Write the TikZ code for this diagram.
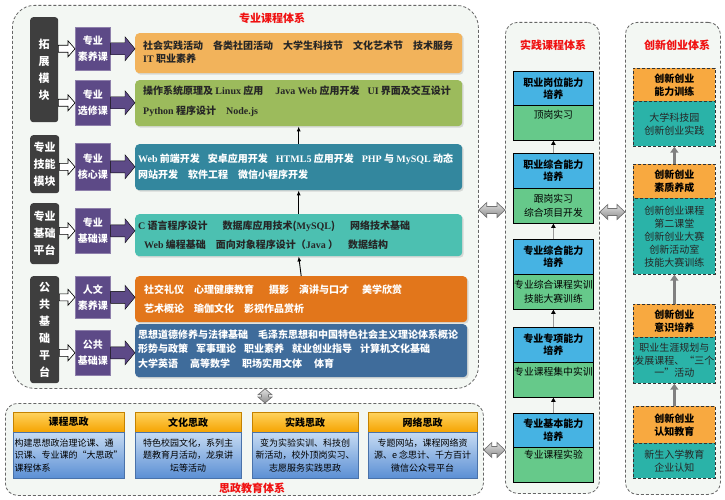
\documentclass[tikz,border=0pt]{standalone}
\usepackage{fontspec}
\setmainfont{Noto Sans CJK SC}
\newfontfamily\lat{Liberation Serif}
\usetikzlibrary{calc,arrows.meta,shadows}
\definecolor{bgtint}{HTML}{F3F7F3}
\definecolor{dkg}{HTML}{3E3E3E}
\definecolor{purp}{HTML}{5D4A87}
\definecolor{cOY}{HTML}{F2B35B}
\definecolor{cGR}{HTML}{9CBB5C}
\definecolor{cTB}{HTML}{33879E}
\definecolor{cTL}{HTML}{4CC0B1}
\definecolor{cOR}{HTML}{E2761B}
\definecolor{cBL}{HTML}{3F6C9B}
\definecolor{pBlue}{HTML}{46B3E3}
\definecolor{pGreen}{HTML}{66C98A}
\definecolor{iOr}{HTML}{F8A940}
\definecolor{iTl}{HTML}{2AB3A8}
\definecolor{hTop}{HTML}{FFD35E}
\definecolor{hBot}{HTML}{F5A300}
\definecolor{bTop}{HTML}{C6DBF3}
\definecolor{bBot}{HTML}{5B8FD4}
\definecolor{ttlred}{HTML}{F01010}
\newcommand\gp{\hspace{1em}}
\newcommand\mybx[7]{\node[#2,anchor=north west,minimum width=#5pt-#3pt,minimum height=#6pt-#4pt] (#1) at (#3,#4) {#7};}
\newcommand\rarrow[6]{\draw[#1] let \p1=(#2), \p2=(#3) in (\x1,\y1+#4pt) -- (\x2-#6pt,\y1+#4pt) -- (\x2-#6pt,\y1+#5pt) -- (\x2,\y1) -- (\x2-#6pt,\y1-#5pt) -- (\x2-#6pt,\y1-#4pt) -- (\x1,\y1-#4pt) -- cycle;}
\newcommand\dharrow[6]{\draw[#1] let \p1=(#2), \p2=(#3) in (\x1,\y1) -- (\x1+#6pt,\y1+#5pt) -- (\x1+#6pt,\y1+#4pt) -- (\x2-#6pt,\y1+#4pt) -- (\x2-#6pt,\y1+#5pt) -- (\x2,\y1) -- (\x2-#6pt,\y1-#5pt) -- (\x2-#6pt,\y1-#4pt) -- (\x1+#6pt,\y1-#4pt) -- (\x1+#6pt,\y1-#5pt) -- cycle;}
\newcommand\dvarrow[6]{\draw[#1] let \p1=(#2), \p2=(#3) in (\x1,\y1) -- (\x1+#5pt,\y1-#6pt) -- (\x1+#4pt,\y1-#6pt) -- (\x1+#4pt,\y2+#6pt) -- (\x1+#5pt,\y2+#6pt) -- (\x1,\y2) -- (\x1-#5pt,\y2+#6pt) -- (\x1-#4pt,\y2+#6pt) -- (\x1-#4pt,\y1-#6pt) -- (\x1-#5pt,\y1-#6pt) -- cycle;}
\tikzset{
 cont/.style={draw=black!60, densely dashed, line width=0.8pt, fill=bgtint, inner sep=0pt},
 ttl/.style={text=ttlred, font=\fontsize{11}{13}\selectfont\bfseries, inner sep=0pt},
 dkblk/.style={fill=dkg, rounded corners=3pt, text=white, align=center, inner sep=0pt, font=\fontsize{11}{17}\selectfont\bfseries},
 pbox/.style={fill=purp, draw=purp!70!white, line width=0.6pt, text=white, align=center, inner sep=0pt, font=\fontsize{10}{16}\selectfont\bfseries},
 cbox/.style={rounded corners=4pt, inner sep=0pt, drop shadow={opacity=0.25, shadow xshift=1.5pt, shadow yshift=-1.5pt}},
 ctext/.style={anchor=west, align=left, inner sep=0pt},
 hol/.style={fill=white, draw=black, line width=0.6pt},
 parr/.style={fill=purp},
 thinar/.style={draw=black, line width=0.9pt, -{Latex[length=5pt,width=4pt]}},
 pb/.style={fill=pBlue, draw=black, line width=0.8pt, align=center, inner sep=0pt, font=\fontsize{10}{12.5}\selectfont\bfseries},
 pg/.style={fill=pGreen, draw=black, line width=0.8pt, inner sep=0pt},
 pgt/.style={align=center, inner sep=0pt, font=\fontsize{9.8}{13.5}\selectfont},
 par/.style={draw=black!40, line width=0.6pt, -{Triangle[length=4pt,width=4.5pt,color=black]}},
 io/.style={fill=iOr, draw=black!80, densely dashed, line width=0.7pt, align=center, inner sep=0pt, font=\fontsize{10}{13}\selectfont\bfseries},
 it/.style={fill=iTl, draw=black!80, densely dashed, line width=0.7pt, align=center, inner sep=0pt, font=\fontsize{10}{13}\selectfont, text=black!85},
 iar/.style={draw=black!50, line width=2.4pt, -{Triangle[length=6pt,width=8pt]}},
 hd/.style={top color=hTop, bottom color=hBot, draw=hBot!80!black, line width=0.4pt, inner sep=0pt, font=\fontsize{10}{12}\selectfont\bfseries},
 bd/.style={top color=bTop, bottom color=bBot, draw=bBot!80!black, line width=0.4pt, inner sep=0pt, align=center, font=\fontsize{9}{12.5}\selectfont},
 dbl/.style={top color=black!12, bottom color=black!45, draw=black!55, line width=0.7pt},
}
\begin{document}
\begin{tikzpicture}[x=1pt,y=-1pt]
\useasboundingbox (0,0) rectangle (725,500);
\fill[white] (0,0) rectangle (725,500);
% containers
\mybx{k1}{cont,rounded corners=22pt}{12}{5}{478}{388}{}
\mybx{k2}{cont,rounded corners=12pt}{505}{22}{599}{493}{}
\mybx{k3}{cont,rounded corners=12pt}{625}{22}{720}{494}{}
\mybx{k4}{cont,rounded corners=12pt}{5}{403}{483}{495}{}
\node[ttl] (tt1) at (272,18) {专业课程体系};
\node[ttl] (tt2) at (553,45) {实践课程体系};
\node[ttl] (tt3) at (677,45) {创新创业体系};
\node[ttl] (tt4) at (252,488) {思政教育体系};
% dark blocks
\mybx{d1}{dkblk}{30}{17}{58}{122}{拓\\展\\模\\块}
\mybx{d2}{dkblk}{30}{135}{59}{193}{专业\\技能\\模块}
\mybx{d3}{dkblk}{30}{203}{59}{264}{专业\\基础\\平台}
\mybx{d4}{dkblk}{30}{276}{59}{383}{公\\共\\基\\础\\平\\台}
% purple boxes
\mybx{pu1}{pbox}{75}{27}{110}{70}{专业\\素养课}
\mybx{pu2}{pbox}{75}{80}{110}{125}{专业\\选修课}
\mybx{pu3}{pbox}{75}{143}{110}{190}{专业\\核心课}
\mybx{pu4}{pbox}{75}{208}{110}{253}{专业\\基础课}
\mybx{pu5}{pbox}{75}{276}{110}{318}{人文\\素养课}
\mybx{pu6}{pbox}{75}{330}{110}{375}{公共\\基础课}
% content boxes
\mybx{c1}{cbox,fill=cOY}{135}{33}{462}{73}{}
\mybx{c2}{cbox,fill=cGR}{135}{80}{462}{126}{}
\mybx{c3}{cbox,fill=cTB}{135}{144}{462}{190}{}
\mybx{c4}{cbox,fill=cTL}{135}{214}{462}{256}{}
\mybx{c5}{cbox,fill=cOR}{135}{276}{467}{322}{}
\mybx{c6}{cbox,fill=cBL}{135}{324}{467}{377}{}
\node[ctext, font=\fontsize{10}{13}\selectfont\bfseries, text=black!85] (t1) at ($(c1.west)+(8,-1.5)$) {社会实践活动\gp 各类社团活动\gp 大学生科技节\gp 文化艺术节\gp 技术服务\\{\lat IT} 职业素养};
\node[ctext, font=\fontsize{10}{20}\selectfont\bfseries, text=black!85] (t2) at ($(c2.west)+(8,-2)$) {操作系统原理及 {\lat Linux} 应用\hspace{1.2em}{\lat Java Web} 应用开发\hspace{0.8em}{\lat UI} 界面及交互设计\\{\lat Python} 程序设计\gp {\lat Node.js}};
\node[ctext, font=\fontsize{10}{16}\selectfont\bfseries, text=white] (t3) at ($(c3.west)+(3,-1)$) {{\lat Web} 前端开发\hspace{0.8em}安卓应用开发\hspace{0.8em}{\lat HTML5} 应用开发\hspace{0.8em}{\lat PHP} 与 {\lat MySQL} 动态\\网站开发\gp 软件工程\gp 微信小程序开发};
\node[ctext, font=\fontsize{10}{19}\selectfont\bfseries, text=black!85] (t4) at ($(c4.west)+(3,0)$) {{\lat C} 语言程序设计\hspace{1.5em}数据库应用技术({\lat MySQL})\hspace{1.5em}网络技术基础\\\hspace*{6pt}{\lat Web} 编程基础\gp 面向对象程序设计（{\lat Java} ）\gp 数据结构};
\node[ctext, font=\fontsize{10}{19}\selectfont\bfseries, text=white] (t5) at ($(c5.west)+(9,0)$) {社交礼仪\gp 心理健康教育\hspace{1.5em}摄影\gp 演讲与口才\hspace{1.3em}美学欣赏\\艺术概论\gp 瑜伽文化\gp 影视作品赏析};
\node[ctext, font=\fontsize{10}{14.5}\selectfont\bfseries, text=white] (t6) at ($(c6.west)+(3,-2)$) {思想道德修养与法律基础\gp 毛泽东思想和中国特色社会主义理论体系概论\\形势与政策\hspace{0.8em}军事理论\hspace{0.8em}职业素养\hspace{0.8em}就业创业指导\hspace{0.8em}计算机文化基础\\大学英语\hspace{1.2em}高等数学\hspace{1.2em}职场实用文体\hspace{1.2em}体育};
% arrows left column
\rarrow{hol}{d1.east |- pu1.west}{pu1.west}{3.5}{8}{7}
\rarrow{hol}{d1.east |- pu2.west}{pu2.west}{3.5}{8}{7}
\rarrow{hol}{d2.east |- pu3.west}{pu3.west}{3.5}{8}{7}
\rarrow{hol}{d3.east |- pu4.west}{pu4.west}{3.5}{8}{7}
\rarrow{hol}{d4.east |- pu5.west}{pu5.west}{3.5}{8}{7}
\rarrow{hol}{d4.east |- pu6.west}{pu6.west}{3.5}{8}{7}
\rarrow{parr}{pu1.east}{c1.west}{6}{12}{10}
\rarrow{parr}{pu2.east}{c2.west}{6}{12}{10}
\rarrow{parr}{pu3.east}{c3.west}{6}{12}{10}
\rarrow{parr}{pu4.east}{c4.west}{6}{12}{10}
\rarrow{parr}{pu5.east}{c5.west}{6}{12}{10}
\rarrow{parr}{pu6.east}{c6.west}{6}{12}{10}
\draw[thinar] (c3.north) -- (c2.south);
\draw[thinar] (c4.north) -- (c3.south);
\draw[thinar] (c5.north) -- (c4.south);
% practice column
\mybx{p1b}{pb}{513}{71}{593}{105}{职业岗位能力\\培养}
\mybx{p1g}{pg}{513}{105}{593}{140}{}
\node[pgt, anchor=north] (p1gt) at ($(p1g.north)+(0,4.5)$) {顶岗实习};
\mybx{p2b}{pb}{513}{153}{593}{188}{职业综合能力\\培养}
\mybx{p2g}{pg,pgt}{513}{188}{593}{223}{跟岗实习\\综合项目开发}
\mybx{p3b}{pb}{513}{239}{593}{274}{专业综合能力\\培养}
\mybx{p3g}{pg,pgt}{513}{274}{593}{309}{专业综合课程实训\\技能大赛训练}
\mybx{p4b}{pb}{513}{327}{593}{362}{专业专项能力\\培养}
\mybx{p4g}{pg}{513}{362}{593}{397}{}
\node[pgt, anchor=north] (p4gt) at ($(p4g.north)+(0,4.5)$) {专业课程集中实训};
\mybx{p5b}{pb}{513}{413}{593}{447}{专业基本能力\\培养}
\mybx{p5g}{pg}{513}{447}{593}{482}{}
\node[pgt, anchor=north] (p5gt) at ($(p5g.north)+(0,2.5)$) {专业课程实验};
\draw[par] (p2b.north) -- (p1g.south);
\draw[par] (p3b.north) -- (p2g.south);
\draw[par] (p4b.north) -- (p3g.south);
\draw[par] (p5b.north) -- (p4g.south);
% innovation column
\mybx{i1o}{io}{633}{68}{715}{101}{创新创业\\能力训练}
\mybx{i1t}{it}{633}{101}{715}{146}{大学科技园\\创新创业实践}
\mybx{i2o}{io}{633}{164}{715}{198}{创新创业\\素质养成}
\mybx{i2t}{it}{633}{198}{715}{274}{创新创业课程\\第二课堂\\创新创业大赛\\创新活动室\\技能大赛训练}
\mybx{i3o}{io}{633}{304}{715}{337}{创新创业\\意识培养}
\mybx{i3t}{it,font=\fontsize{10}{12.5}\selectfont}{633}{337}{715}{383}{职业生涯规划与\\发展课程、“三个\\一”活动}
\mybx{i4o}{io}{633}{406}{715}{443}{创新创业\\认知教育}
\mybx{i4t}{it}{633}{443}{715}{478}{新生入学教育\\企业认知}
\draw[iar] (i2o.north) -- (i1t.south);
\draw[iar] (i3o.north) -- (i2t.south);
\draw[iar] (i4o.north) -- (i3t.south);
% ideology boxes
\mybx{s1h}{hd}{13}{412}{124}{432}{课程思政}
\mybx{s1b}{bd,align=left}{13}{432}{124}{478}{构建思想政治理论课、通\\识课、专业课的“大思政”\\课程体系}
\mybx{s2h}{hd}{135}{412}{241}{432}{文化思政}
\mybx{s2b}{bd}{135}{432}{241}{478}{特色校园文化，系列主\\题教育月活动，龙泉讲\\坛等活动}
\mybx{s3h}{hd}{252}{412}{358}{432}{实践思政}
\mybx{s3b}{bd}{252}{432}{358}{478}{变为实验实训、科技创\\新活动，校外顶岗实习、\\志愿服务实践思政}
\mybx{s4h}{hd}{368}{412}{477}{432}{网络思政}
\mybx{s4b}{bd}{368}{432}{477}{478}{专题网站，课程网络资\\源、e 念思计、千方百计\\微信公众号平台}
% double arrows between systems
\dharrow{dbl}{k1.east |- 0,210}{k2.west}{3.5}{7.5}{8}
\dharrow{dbl}{k2.east |- 0,212}{k3.west}{3.5}{7.5}{8}
\dharrow{dbl}{k4.east |- 0,450}{k2.west}{3.5}{7.5}{8}
\dvarrow{dbl}{k1.south -| 265,0}{k4.north}{3.5}{7}{6}
\end{tikzpicture}
\end{document}
